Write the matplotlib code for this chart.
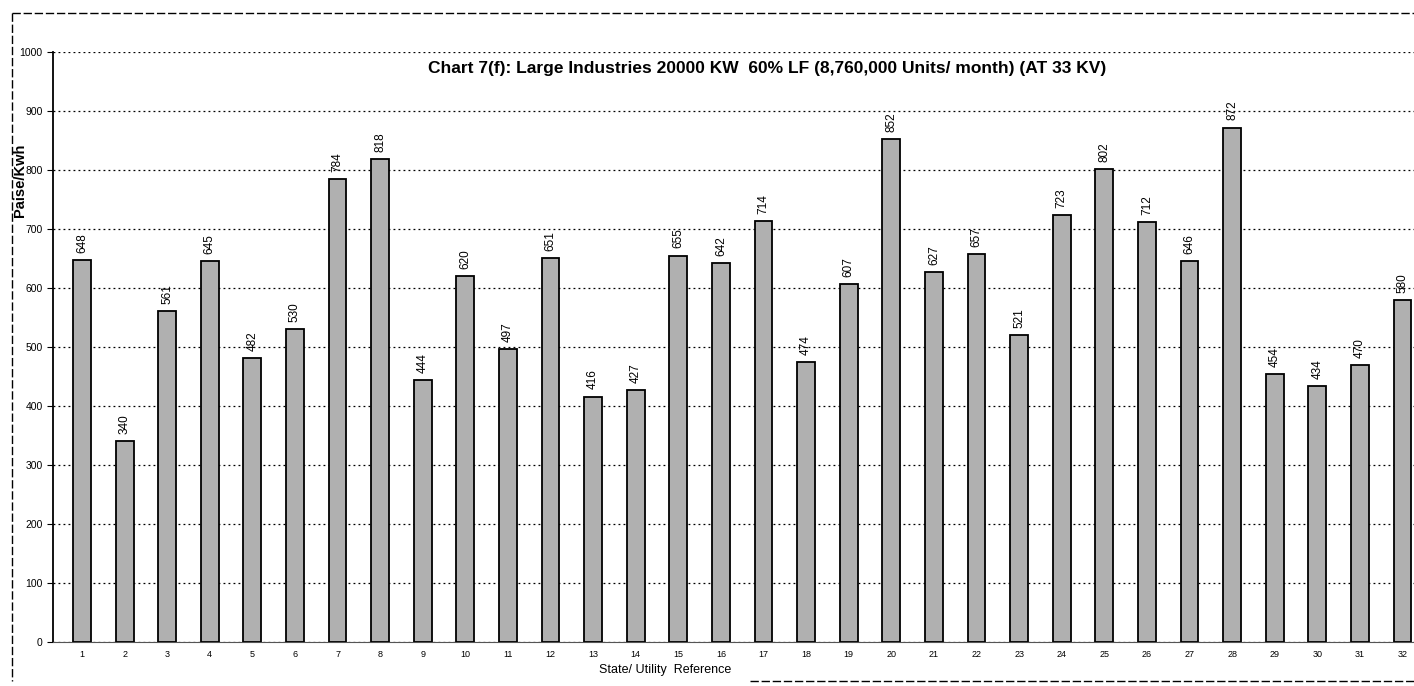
import numpy as np
import matplotlib
matplotlib.use('Agg')
import matplotlib.pyplot as plt
from matplotlib.lines import Line2D

plt.rcParams['font.family'] = ['Liberation Sans', 'DejaVu Sans']

# data
refs = list(range(1, 33))
paise = [648, 340, 561, 645, 482, 530, 784, 818, 444, 620, 497, 651, 416, 427, 655, 642,
         714, 474, 607, 852, 627, 657, 521, 723, 802, 712, 646, 872, 454, 434, 470, 580]
yticks = list(range(0, 1001, 100))

W, H = 1414, 686
fig = plt.figure(figsize=(W / 100, H / 100), dpi=100)
ax = fig.add_axes([53 / W, 1 - 642 / H, (W - 53) / W, (642 - 52) / H])

# outer frame of the scanned chart (top, left, and part of the bottom)
frame = dict(transform=fig.transFigure, color='black', lw=1.0, ls=(0, (6, 2)))
fig.lines.append(Line2D([12 / W, 1], [1 - 13 / H, 1 - 13 / H], **frame))
fig.lines.append(Line2D([12 / W, 12 / W], [1 - 13 / H, 1 - 681 / H], **frame))
fig.lines.append(Line2D([750 / W, 1], [1 - 681 / H, 1 - 681 / H], **frame))

ax.bar(refs, paise, width=0.42, color='#b0b0b0', edgecolor='black', linewidth=1.3, zorder=3)

for x, v in zip(refs, paise):
    ax.text(x, v + 12, str(v), rotation=90, ha='center', va='bottom', fontsize=8.5, zorder=4)

ax.set_ylim(0, 1000)
ax.set_xlim(0.32, 32.27)
ax.set_yticks(yticks)
ax.set_yticklabels([str(t) for t in yticks], fontsize=7.5)
ax.set_xticks(refs)
ax.set_xticklabels([str(r) for r in refs], fontsize=6.5)
ax.tick_params(axis='x', length=0, pad=6)
ax.tick_params(axis='y', length=4, direction='out')

ax.grid(axis='y', color='black', ls=(0, (1.5, 2.5)), lw=0.9, zorder=0)
for s in ['top', 'right']:
    ax.spines[s].set_visible(False)
ax.spines['left'].set_linewidth(1.3)
ax.spines['bottom'].set_color('#555555')

ax.set_xlabel('State/ Utility  Reference', fontsize=9)
ax.xaxis.set_label_coords(0.45, -0.038)
fig.text(20 / W, 1 - 180 / H, 'Paise/Kwh', rotation=90, ha='center', va='center',
         fontsize=10.5, fontweight='bold')

fig.text(767 / W, 1 - 68 / H,
         'Chart 7(f): Large Industries 20000 KW  60% LF (8,760,000 Units/ month) (AT 33 KV)',
         ha='center', va='center', fontsize=12.5, fontweight='bold')

fig.savefig('out.png', dpi=100)
